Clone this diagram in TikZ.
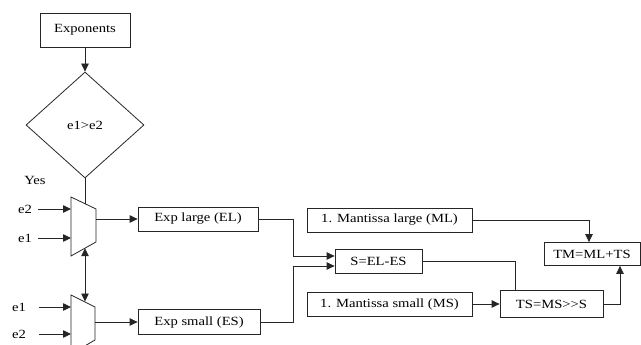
\documentclass[tikz,border=0pt]{standalone}
\usepackage{fontspec}
\setmainfont[FakeStretch=1.17]{Liberation Serif}
\usetikzlibrary{shapes.geometric,arrows.meta}
\begin{document}
\begin{tikzpicture}[x=1pt,y=-1pt,
    every node/.append style={font=\fontsize{12.5}{14}\selectfont},
    box/.style={draw=black!85,line width=0.8pt,inner sep=0pt,minimum height=24pt},
    wire/.style={draw=black!85,line width=0.8pt},
    arr/.style={wire,-{Triangle[length=8pt,width=7.5pt]}},
    darr/.style={wire,{Triangle[length=8pt,width=7.5pt]}-{Triangle[length=8pt,width=7.5pt]}}]
    \useasboundingbox (0,0) rectangle (641,345);
    \clip (0,0) rectangle (641,345);
    \node [box,minimum width=90pt,minimum height=34pt] (exp) at (85,30) {Exponents};
    \node [wire,diamond,inner sep=0pt,minimum width=118pt,minimum height=106pt] (cmp) at (85,125) {e1>e2};
    \node (yes) at (35,180) {Yes};
    \coordinate (mxa1) at (71,197);
    \coordinate (mxa2) at (96,209);
    \coordinate (mxa3) at (96,242);
    \coordinate (mxa4) at (71,256);
    \draw [wire] (mxa1) -- (mxa2) -- (mxa3) -- (mxa4) -- cycle;
    \coordinate (mxb1) at (71,295);
    \coordinate (mxb2) at (95,307);
    \coordinate (mxb3) at (95,340);
    \coordinate (mxb4) at (71,354);
    \draw [wire] (mxb1) -- (mxb2) -- (mxb3) -- (mxb4) -- cycle;
    \coordinate (mxa-sel) at (85,203.7);
    \coordinate (mxa-in1) at (71,209);
    \coordinate (mxa-in2) at (71,238);
    \coordinate (mxa-out) at (96,219);
    \coordinate (mxa-bot) at (85,248.2);
    \coordinate (mxb-top) at (85,301.5);
    \coordinate (mxb-in1) at (71,307);
    \coordinate (mxb-in2) at (71,334);
    \coordinate (mxb-out) at (95,322);
    \node (ea2) at (25,209) {e2};
    \node (ea1) at (25,238) {e1};
    \node (eb1) at (19,307) {e1};
    \node (eb2) at (19,334) {e2};
    \node [box,minimum width=120pt] (el) at (198,219) {Exp large (EL)};
    \node [box,minimum width=122pt,minimum height=25pt] (es) at (199,322) {Exp small (ES)};
    \node [box,minimum width=87pt] (s) at (378.5,261) {S=EL-ES};
    \node [box,minimum width=165pt] (ml) at (389.5,220) {1. Mantissa large (ML)};
    \node [box,minimum width=165pt] (ms) at (389.5,304) {1. Mantissa small (MS)};
    \node [box,minimum width=103pt,minimum height=27pt] (ts) at (551.5,304) {TS=MS>\kern0pt>S};
    \node [box,minimum width=96pt,minimum height=23pt] (tm) at (592,254) {TM=ML+TS};
    \draw [arr] (exp.south) -- (cmp.north);
    \draw [wire] (cmp.south) -- (mxa-sel);
    \draw [arr] ([xshift=3pt]ea2.east) -- (mxa-in1);
    \draw [arr] ([xshift=3pt]ea1.east) -- (mxa-in2);
    \draw [arr] ([xshift=10pt]eb1.east) -- (mxb-in1);
    \draw [arr] ([xshift=10pt]eb2.east) -- (mxb-in2);
    \draw [darr] (mxa-bot) -- (mxb-top);
    \draw [arr] (mxa-out) -- (el.west);
    \draw [arr] (mxb-out) -- (es.west);
    \draw [arr] (el.east) -- ++(35,0) |- ([yshift=5pt]s.west);
    \draw [arr] (es.east) -- ++(33,0) |- ([yshift=-5pt]s.west);
    \draw [arr] (ml.east) -| ([xshift=-3pt]tm.north);
    \draw [wire] (s.east) -| ([xshift=-36.5pt]ts.north);
    \draw [arr] (ms) -- (ts);
    \draw [arr] (ts.east) -| ([xshift=28pt]tm.south);
\end{tikzpicture}
\end{document}
